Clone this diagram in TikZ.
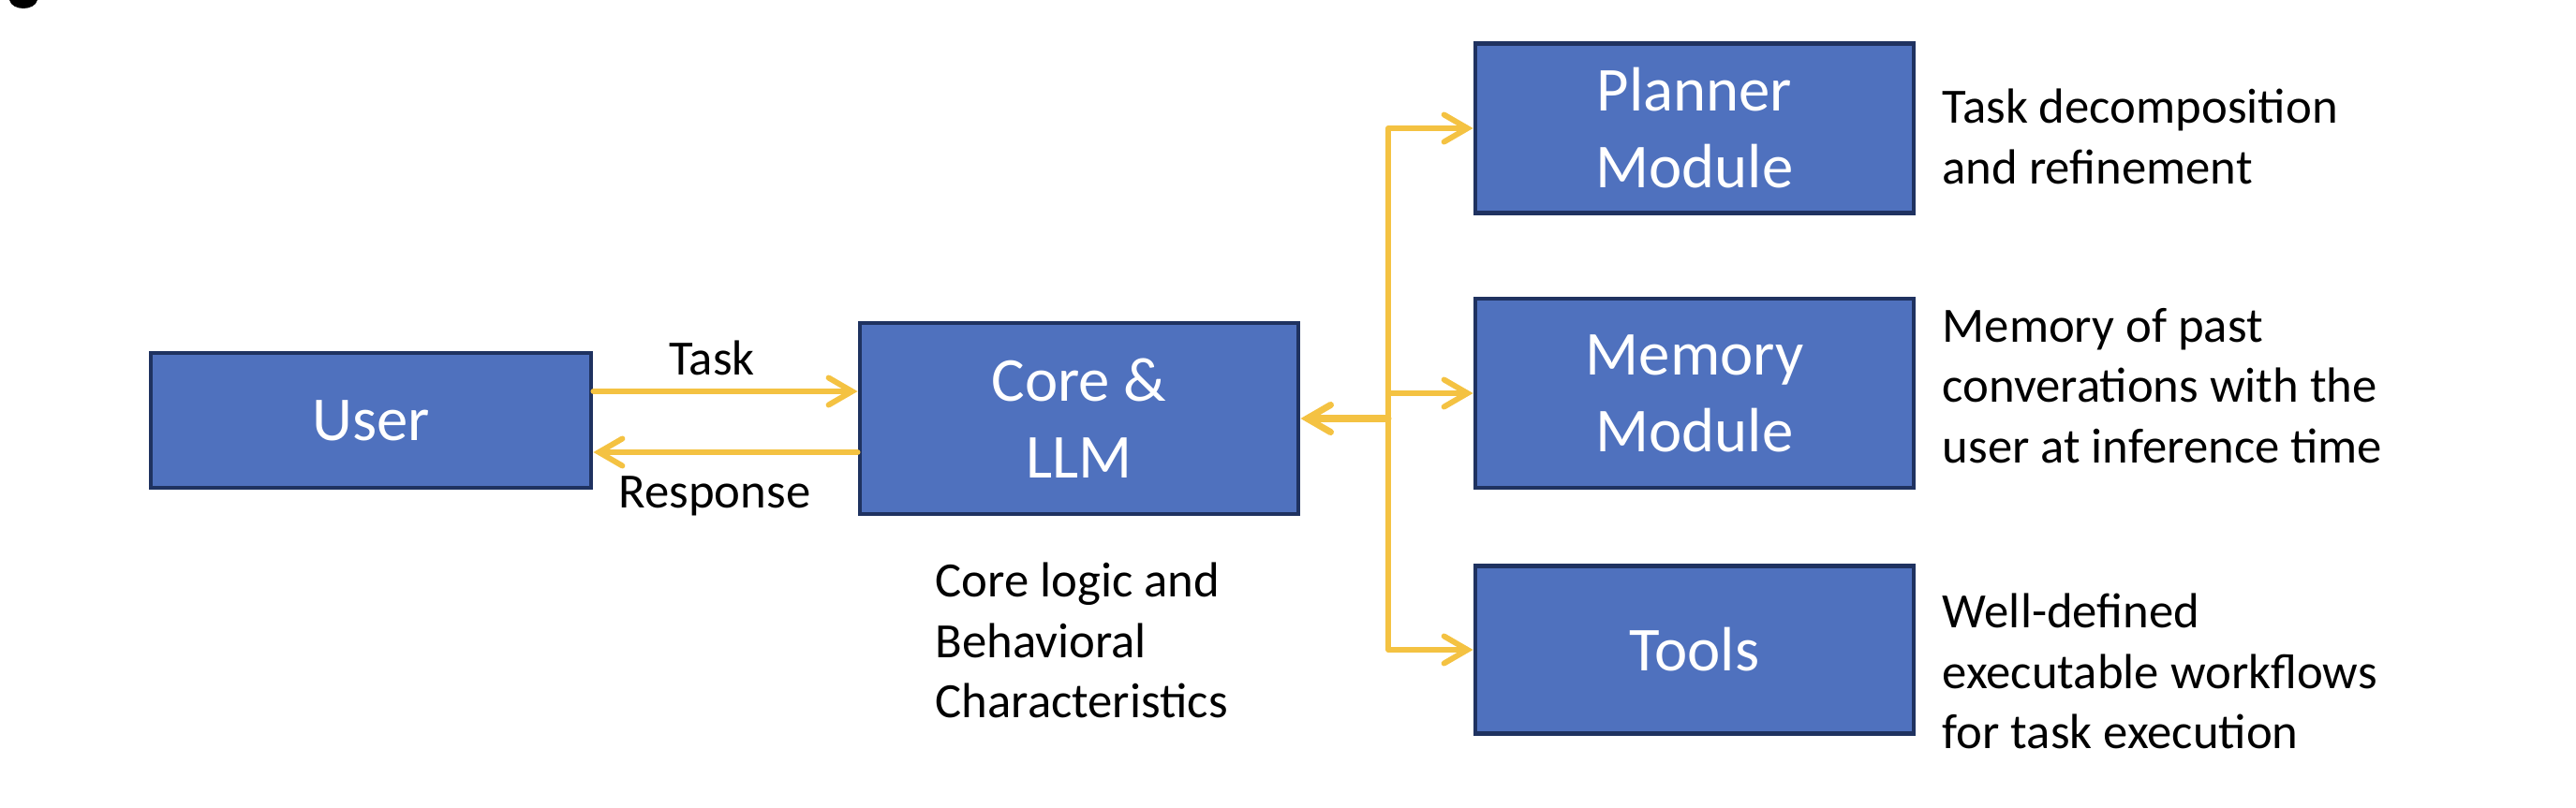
\documentclass[tikz,border=0pt]{standalone}
\usepackage{fontspec}
\setmainfont{Carlito}
\usetikzlibrary{arrows.meta,calc}
\definecolor{boxblue}{HTML}{4F71BE}
\definecolor{boxline}{HTML}{1F3260}
\definecolor{flowgold}{HTML}{F4C242}
\begin{document}
\begin{tikzpicture}[
    main/.style = {draw=boxline, line width=1.4pt, fill=boxblue, text=white,
        font=\fontsize{19}{23.3}\selectfont, align=center, inner sep=0pt},
    note/.style = {font=\fontsize{15}{18.3}\selectfont, align=left, inner sep=0pt, anchor=west},
    flow/.style = {draw=flowgold, line width=1.7pt, line cap=round,
        -{Straight Barb[length=2.5mm,width=2.9mm,line cap=round]}}]
    \useasboundingbox (0,0) rectangle (27.5,8.62);
    \fill (0.1,8.62) .. controls (0.13,8.50) and (0.37,8.50) .. (0.40,8.62) -- cycle;

    \node[main, minimum width=4.7cm, minimum height=1.44cm] (user) at (3.96, 4.13) {User};
    \node[main, minimum width=4.68cm, minimum height=2.04cm] (core) at (11.52, 4.15) {Core \&\\LLM};

    \node[main, minimum width=4.68cm, minimum height=1.81cm] (planner) at (18.09, 7.25) {Planner\\Module};
    \node[main, minimum width=4.68cm, minimum height=2.02cm] (memory) at (18.09, 4.42) {Memory\\Module};
    \node[main, minimum width=4.68cm, minimum height=1.79cm] (tools) at (18.09, 1.68) {Tools};

    \node[note, anchor=center] (task) at (7.60, 4.80) {Task};
    \node[note, anchor=center] (response) at (7.63, 3.32) {Response};
    \draw [flow] ([yshift=3.1mm]user.east) -- ([yshift=3.1mm]user.east -| core.west);
    \draw [flow] ([yshift=-3.6mm]core.west) -- ([yshift=-3.6mm]core.west -| user.east);

    \node[note] (corenote) at (9.98, 1.78) {Core logic and\\Behavioral\\Characteristics};

    \coordinate (bus) at (14.82, 4.15);
    \draw [flowgold, line width=1.7pt] (bus |- planner) -- (bus |- tools);
    \draw [flow, line width=2pt] (bus) -- (core.east);
    \draw [flow] (bus |- planner) -- (planner.west);
    \draw [flow] (bus |- memory) -- (memory.west);
    \draw [flow] (bus |- tools) -- (tools.west);

    \node[note] (plannernote) at (20.73, 7.16) {Task decomposition\\and refinement};
    \node[note] (memorynote) at (20.73, 4.50) {Memory of past\\converations with the\\user at inference time};
    \node[note] (toolsnote) at (20.73, 1.45) {Well-defined\\executable workflows\\for task execution};
\end{tikzpicture}
\end{document}
